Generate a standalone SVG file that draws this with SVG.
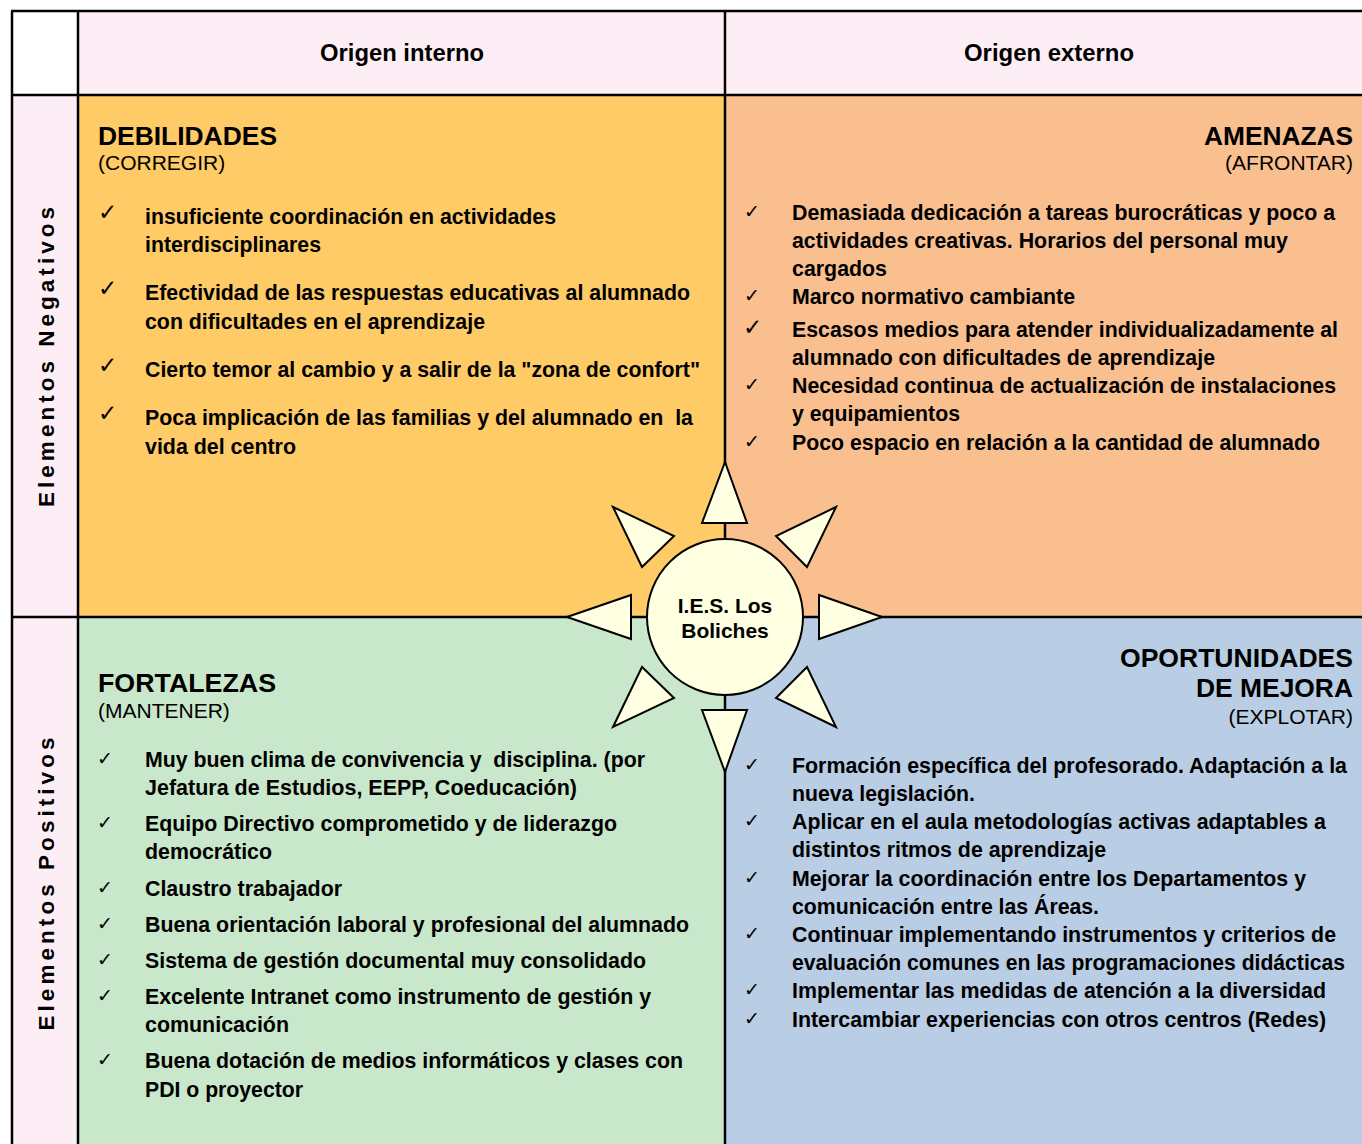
<svg xmlns="http://www.w3.org/2000/svg" width="1362" height="1144" viewBox="0 0 1362 1144">
<style>
.b{font-family:"Liberation Sans",Arial,sans-serif;font-weight:bold;font-size:22px;fill:#000}
.c{font-family:"Liberation Sans",Arial,sans-serif;font-weight:bold;font-size:21px;fill:#000}
.t{font-family:"Liberation Sans",Arial,sans-serif;font-weight:bold;font-size:25px;fill:#000}
.s{font-family:"Liberation Sans",Arial,sans-serif;font-size:21px;fill:#000}
.h{font-family:"Liberation Sans",Arial,sans-serif;font-weight:bold;font-size:23.5px;fill:#000}
.v{font-family:"Liberation Sans",Arial,sans-serif;font-weight:bold;font-size:22.5px;fill:#000}
.ck{font-family:"DejaVu Sans",sans-serif;font-size:19px;fill:#000}
.ckL{font-family:"DejaVu Sans",sans-serif;font-size:23px;font-weight:bold;fill:#000}
.ray{fill:#FFFFE1;stroke:#000;stroke-width:2;stroke-linejoin:miter}
.grid{stroke:#000;stroke-width:2.5;fill:none}
</style>
<rect width="1362" height="1144" fill="#fff"/>
<g id="backgrounds">
<rect x="78" y="11" width="1284" height="84" fill="#FDEEF5"/>
<rect x="11" y="95" width="67" height="1049" fill="#FDEEF5"/>
<rect x="78" y="95" width="647" height="522" fill="#FFCB66"/>
<rect x="725" y="95" width="637" height="522" fill="#F9BF8F"/>
<rect x="78" y="617" width="647" height="527" fill="#C9E7CA"/>
<rect x="725" y="617" width="637" height="527" fill="#B9CDE4"/>
</g>
<g id="grid" class="grid">
<line x1="11" y1="11" x2="1362" y2="11"/>
<line x1="11" y1="95" x2="1362" y2="95"/>
<line x1="11" y1="617" x2="1362" y2="617"/>
<line x1="12" y1="11" x2="12" y2="1144"/>
<line x1="78" y1="11" x2="78" y2="1144"/>
<line x1="725" y1="11" x2="725" y2="1144"/>
</g>
<g id="header-interno"><text class="h" x="402" y="61" text-anchor="middle" textLength="164" lengthAdjust="spacingAndGlyphs">Origen interno</text></g>
<g id="header-externo"><text class="h" x="1049" y="61" text-anchor="middle" textLength="170" lengthAdjust="spacingAndGlyphs">Origen externo</text></g>
<g id="label-negativos"><text class="v" transform="translate(54,357) rotate(-90)" text-anchor="middle" textLength="300" lengthAdjust="spacing">Elementos Negativos</text></g>
<g id="label-positivos"><text class="v" transform="translate(54,884) rotate(-90)" text-anchor="middle" textLength="293" lengthAdjust="spacing">Elementos Positivos</text></g>

<g id="debilidades">
<text class="t" x="98" y="145" textLength="179" lengthAdjust="spacingAndGlyphs">DEBILIDADES</text>
<text class="s" x="98" y="170">(CORREGIR)</text>
<text class="ckL" x="98" y="220">✓</text>
<text class="ckL" x="98" y="296">✓</text>
<text class="ckL" x="98" y="373">✓</text>
<text class="ckL" x="98" y="421">✓</text>
<text class="b" x="145" y="224" textLength="411" lengthAdjust="spacingAndGlyphs">insuficiente coordinación en actividades</text>
<text class="b" x="145" y="252" textLength="176" lengthAdjust="spacingAndGlyphs">interdisciplinares</text>
<text class="b" x="145" y="300" textLength="545" lengthAdjust="spacingAndGlyphs">Efectividad de las respuestas educativas al alumnado</text>
<text class="b" x="145" y="329" textLength="340" lengthAdjust="spacingAndGlyphs">con dificultades en el aprendizaje</text>
<text class="b" x="145" y="377" textLength="555" lengthAdjust="spacingAndGlyphs">Cierto temor al cambio y a salir de la "zona de confort"</text>
<text class="b" x="145" y="425" textLength="548" lengthAdjust="spacingAndGlyphs">Poca implicación de las familias y del alumnado en &#160;la</text>
<text class="b" x="145" y="454" textLength="151" lengthAdjust="spacingAndGlyphs">vida del centro</text>
</g>

<g id="amenazas">
<text class="t" x="1353" y="145" text-anchor="end" textLength="149" lengthAdjust="spacingAndGlyphs">AMENAZAS</text>
<text class="s" x="1353" y="170" text-anchor="end">(AFRONTAR)</text>
<text class="ck" x="744" y="218">✓</text>
<text class="ck" x="744" y="302">✓</text>
<text class="ckL" x="743" y="335">✓</text>
<text class="ck" x="744" y="391">✓</text>
<text class="ck" x="744" y="448">✓</text>
<text class="b" x="792" y="220" textLength="543" lengthAdjust="spacingAndGlyphs">Demasiada dedicación a tareas burocráticas y poco a</text>
<text class="b" x="792" y="248" textLength="496" lengthAdjust="spacingAndGlyphs">actividades creativas. Horarios del personal muy</text>
<text class="b" x="792" y="276" textLength="95" lengthAdjust="spacingAndGlyphs">cargados</text>
<text class="b" x="792" y="304" textLength="283" lengthAdjust="spacingAndGlyphs">Marco normativo cambiante</text>
<text class="b" x="792" y="337" textLength="546" lengthAdjust="spacingAndGlyphs">Escasos medios para atender individualizadamente al</text>
<text class="b" x="792" y="365" textLength="423" lengthAdjust="spacingAndGlyphs">alumnado con dificultades de aprendizaje</text>
<text class="b" x="792" y="393" textLength="544" lengthAdjust="spacingAndGlyphs">Necesidad continua de actualización de instalaciones</text>
<text class="b" x="792" y="421" textLength="168" lengthAdjust="spacingAndGlyphs">y equipamientos</text>
<text class="b" x="792" y="450" textLength="528" lengthAdjust="spacingAndGlyphs">Poco espacio en relación a la cantidad de alumnado</text>
</g>

<g id="fortalezas">
<text class="t" x="98" y="692" textLength="178" lengthAdjust="spacingAndGlyphs">FORTALEZAS</text>
<text class="s" x="98" y="718">(MANTENER)</text>
<text class="ck" x="97" y="765">✓</text>
<text class="ck" x="97" y="829">✓</text>
<text class="ck" x="97" y="894">✓</text>
<text class="ck" x="97" y="930">✓</text>
<text class="ck" x="97" y="966">✓</text>
<text class="ck" x="97" y="1002">✓</text>
<text class="ck" x="97" y="1066">✓</text>
<text class="b" x="145" y="767" textLength="500" lengthAdjust="spacingAndGlyphs">Muy buen clima de convivencia y &#160;disciplina. (por</text>
<text class="b" x="145" y="795" textLength="432" lengthAdjust="spacingAndGlyphs">Jefatura de Estudios, EEPP, Coeducación)</text>
<text class="b" x="145" y="831" textLength="472" lengthAdjust="spacingAndGlyphs">Equipo Directivo comprometido y de liderazgo</text>
<text class="b" x="145" y="859" textLength="127" lengthAdjust="spacingAndGlyphs">democrático</text>
<text class="b" x="145" y="896" textLength="197" lengthAdjust="spacingAndGlyphs">Claustro trabajador</text>
<text class="b" x="145" y="932" textLength="544" lengthAdjust="spacingAndGlyphs">Buena orientación laboral y profesional del alumnado</text>
<text class="b" x="145" y="968" textLength="501" lengthAdjust="spacingAndGlyphs">Sistema de gestión documental muy consolidado</text>
<text class="b" x="145" y="1004" textLength="506" lengthAdjust="spacingAndGlyphs">Excelente Intranet como instrumento de gestión y</text>
<text class="b" x="145" y="1032" textLength="144" lengthAdjust="spacingAndGlyphs">comunicación</text>
<text class="b" x="145" y="1068" textLength="538" lengthAdjust="spacingAndGlyphs">Buena dotación de medios informáticos y clases con</text>
<text class="b" x="145" y="1097" textLength="158" lengthAdjust="spacingAndGlyphs">PDI o proyector</text>
</g>

<g id="oportunidades">
<text class="t" x="1353" y="667" text-anchor="end" textLength="233" lengthAdjust="spacingAndGlyphs">OPORTUNIDADES</text>
<text class="t" x="1353" y="697" text-anchor="end" textLength="157" lengthAdjust="spacingAndGlyphs">DE MEJORA</text>
<text class="s" x="1353" y="724" text-anchor="end">(EXPLOTAR)</text>
<text class="ck" x="744" y="771">✓</text>
<text class="ck" x="744" y="827">✓</text>
<text class="ck" x="744" y="884">✓</text>
<text class="ck" x="744" y="940">✓</text>
<text class="ck" x="744" y="996">✓</text>
<text class="ck" x="744" y="1025">✓</text>
<text class="b" x="792" y="773" textLength="555" lengthAdjust="spacingAndGlyphs">Formación específica del profesorado. Adaptación a la</text>
<text class="b" x="792" y="801" textLength="183" lengthAdjust="spacingAndGlyphs">nueva legislación.</text>
<text class="b" x="792" y="829" textLength="534" lengthAdjust="spacingAndGlyphs">Aplicar en el aula metodologías activas adaptables a</text>
<text class="b" x="792" y="857" textLength="314" lengthAdjust="spacingAndGlyphs">distintos ritmos de aprendizaje</text>
<text class="b" x="792" y="886" textLength="514" lengthAdjust="spacingAndGlyphs">Mejorar la coordinación entre los Departamentos y</text>
<text class="b" x="792" y="914" textLength="307" lengthAdjust="spacingAndGlyphs">comunicación entre las Áreas.</text>
<text class="b" x="792" y="942" textLength="544" lengthAdjust="spacingAndGlyphs">Continuar implementando instrumentos y criterios de</text>
<text class="b" x="792" y="970" textLength="553" lengthAdjust="spacingAndGlyphs">evaluación comunes en las programaciones didácticas</text>
<text class="b" x="792" y="998" textLength="534" lengthAdjust="spacingAndGlyphs">Implementar las medidas de atención a la diversidad</text>
<text class="b" x="792" y="1027" textLength="534" lengthAdjust="spacingAndGlyphs">Intercambiar experiencias con otros centros (Redes)</text>
</g>

<g id="sun">
<polygon class="ray" points="725,462 702,523 747,523"/>
<polygon class="ray" points="836,507 776,536 807,567"/>
<polygon class="ray" points="613,507 674,536 642,567"/>
<polygon class="ray" points="567,617 631,595 631,639"/>
<polygon class="ray" points="882,617 819,595 819,639"/>
<polygon class="ray" points="642,667 674,698 613,727"/>
<polygon class="ray" points="807,667 776,698 836,727"/>
<polygon class="ray" points="702,710 747,710 725,772"/>
<circle class="ray" cx="725" cy="617" r="78"/>
<text class="c" x="725" y="613" text-anchor="middle">I.E.S. Los</text>
<text class="c" x="725" y="638" text-anchor="middle">Boliches</text>
</g>
</svg>
